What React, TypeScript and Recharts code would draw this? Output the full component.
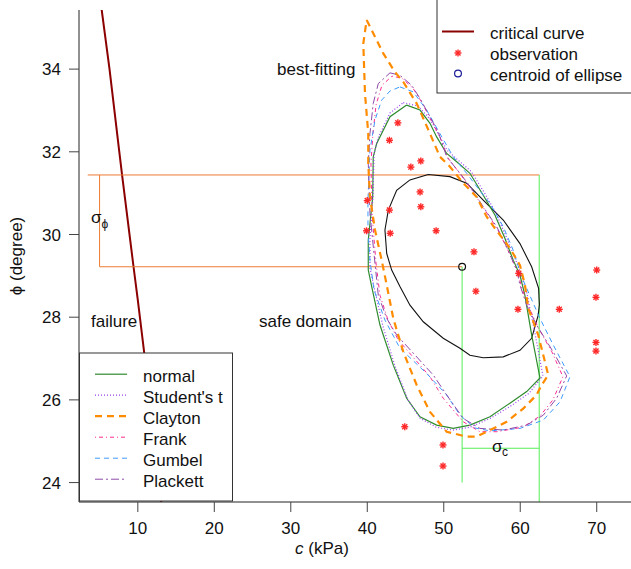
import React from 'react';
import { ComposedChart, XAxis, YAxis, Line, Scatter } from 'recharts';

type Pt = { c: number; phi: number };
type Pair = [number, number];

const xTicks = [10, 20, 30, 40, 50, 60, 70];
const yTicks = [24, 26, 28, 30, 32, 34];

// critical curve (c, phi)
const criticalCurve: Pair[] = [
  [4.85, 36.0], [5.28, 35.43], [6.3, 34.0], [7.58, 32.0], [7.94, 31.44], [9.44, 29.22],
  [10.0, 28.41], [10.83, 27.15], [13.05, 23.55], [13.2, 23.3],
];

const observations: Pair[] = [
  [44.0, 32.7], [42.9, 32.28], [47.0, 31.78], [45.7, 31.63], [46.9, 31.03], [47.0, 30.67],
  [40.0, 30.82], [42.9, 30.59], [39.9, 30.09], [43.0, 30.03], [49.0, 30.09], [53.95, 29.58],
  [59.8, 29.06], [54.2, 28.63], [59.7, 28.19], [65.1, 28.19], [70.0, 29.14], [69.9, 28.48],
  [69.9, 27.39], [69.9, 27.18], [44.9, 25.35], [49.9, 24.91], [49.9, 24.4],
];

const centroid: Pair[] = [[52.4, 29.22]];

const ellipse: Pair[] = [
  [47.97, 31.45], [50.81, 31.4], [52.99, 31.24], [55.16, 30.83], [57.78, 30.35], [59.96, 29.78],
  [61.49, 29.22], [62.4, 28.7], [62.5, 28.3], [62.35, 28.05], [61.49, 27.49], [59.96, 27.2],
  [57.78, 27.04], [55.16, 27.02], [53.42, 27.08], [52.12, 27.25], [49.93, 27.49], [47.32, 27.89],
  [45.58, 28.29], [44.27, 28.74], [43.19, 29.14], [42.54, 29.54], [42.31, 30.11], [42.75, 30.59],
  [43.84, 31.07], [45.58, 31.32],
];

const normalCurve: Pair[] = [
  [45.15, 33.13], [46.89, 33.01], [48.2, 32.69], [49.07, 32.36], [50.38, 31.96], [51.69, 31.76],
  [53.42, 31.48], [55.16, 30.95], [56.69, 30.47], [57.99, 29.91], [59.08, 29.38], [59.96, 29.02],
  [60.61, 28.53], [61.49, 27.57], [62.58, 26.53], [60.84, 26.2], [58.65, 25.92], [56.04, 25.59],
  [53.42, 25.39], [51.24, 25.31], [49.07, 25.39], [46.89, 25.59], [45.15, 26.04], [43.4, 26.84],
  [41.66, 27.81], [40.58, 28.74], [40.13, 29.14], [40.13, 29.86], [40.71, 30.91], [40.78, 31.88],
  [41.23, 32.2], [42.97, 32.85],
];

const studentCurve: Pair[] = [
  [44.71, 33.19], [46.63, 33.11], [48.2, 32.79], [49.24, 32.45], [50.42, 32.04], [51.86, 31.8],
  [53.56, 31.53], [55.25, 31.03], [56.82, 30.52], [58.13, 29.96], [59.31, 29.43], [60.09, 29.04],
  [60.87, 28.58], [61.92, 27.62], [62.97, 26.58], [61.14, 26.16], [58.91, 25.87], [56.17, 25.56],
  [53.42, 25.34], [51.2, 25.27], [48.98, 25.34], [46.89, 25.56], [45.32, 26.0], [43.62, 26.82],
  [42.05, 27.78], [40.88, 28.73], [40.35, 29.19], [40.35, 29.91], [40.75, 30.93], [40.88, 31.94],
  [41.4, 32.33], [42.97, 32.94],
];

const claytonCurve: Pair[] = [
  [39.92, 35.19], [42.09, 34.38], [43.62, 33.93], [44.71, 33.69], [46.46, 33.17], [48.2, 32.44],
  [49.5, 31.88], [50.81, 31.64], [52.55, 31.24], [54.3, 30.91], [55.61, 30.43], [56.69, 30.15],
  [58.65, 29.67], [59.96, 29.26], [60.61, 28.78], [61.05, 28.21], [62.35, 27.57], [63.23, 26.92],
  [63.66, 26.6], [62.8, 26.36], [62.14, 26.12], [60.39, 25.79], [58.22, 25.47], [54.3, 25.11],
  [52.99, 25.11], [50.38, 25.23], [48.2, 25.71], [46.46, 26.36], [44.71, 27.16], [43.4, 27.97],
  [42.54, 28.78], [41.88, 29.38], [41.01, 30.11], [40.35, 30.91], [40.13, 31.72], [40.13, 32.44],
  [39.7, 33.41], [39.48, 34.62],
];

const frankCurve: Pair[] = [
  [43.23, 33.83], [44.54, 33.78], [45.97, 33.54], [47.02, 33.23], [48.33, 32.77], [49.5, 32.36],
  [50.55, 31.85], [52.25, 31.44], [53.69, 31.07], [55.39, 30.59], [57.08, 30.11], [58.39, 29.62],
  [59.7, 29.07], [60.22, 28.7], [61.14, 28.24], [62.31, 27.76], [64.14, 27.16], [65.58, 26.56],
  [64.27, 26.0], [62.58, 25.61], [60.35, 25.34], [56.95, 25.23], [54.73, 25.23], [52.55, 25.47],
  [49.93, 26.04], [48.2, 26.56], [44.05, 27.45], [42.71, 27.93], [41.66, 28.53], [41.14, 29.31],
  [40.61, 30.52], [40.48, 31.73], [40.75, 32.45], [41.14, 33.13], [41.92, 33.61],
];

const gumbelCurve: Pair[] = [
  [44.27, 33.57], [46.01, 33.45], [47.76, 33.01], [49.5, 32.44], [51.24, 31.88], [52.99, 31.48],
  [54.47, 31.12], [56.04, 30.75], [57.78, 30.19], [59.08, 29.62], [60.18, 28.98], [61.05, 28.61],
  [62.58, 27.97], [64.31, 27.33], [66.5, 26.56], [65.19, 25.95], [63.01, 25.51], [59.96, 25.31],
  [56.04, 25.25], [54.08, 25.32], [52.12, 25.63], [50.38, 26.12], [47.76, 26.64], [44.27, 27.25],
  [42.31, 27.93], [40.88, 28.66], [40.35, 29.38], [40.09, 30.11], [40.09, 30.83], [40.35, 32.04],
  [41.01, 32.77], [41.88, 33.25], [42.97, 33.47],
];

const plackettCurve: Pair[] = [
  [42.97, 33.91], [44.27, 33.85], [45.8, 33.61], [46.89, 33.29], [48.2, 32.85], [49.28, 32.48],
  [50.38, 31.88], [52.12, 31.48], [53.42, 31.17], [55.16, 30.67], [56.92, 30.19], [58.22, 29.7],
  [59.53, 29.14], [59.96, 28.78], [60.84, 28.29], [62.14, 27.81], [64.31, 27.16], [66.07, 26.58],
  [64.76, 26.04], [63.01, 25.63], [60.84, 25.39], [57.78, 25.27], [54.73, 25.31], [52.55, 25.55],
  [50.38, 26.12], [48.63, 26.6], [43.84, 27.57], [42.54, 27.97], [41.44, 28.53], [41.01, 29.3],
  [40.35, 30.51], [40.13, 31.72], [40.35, 32.44], [40.78, 33.17], [41.44, 33.65],
];

// sigma brackets
const phiTopLine: Pair[] = [[3.45, 31.44], [62.48, 31.44]];
const phiBracket: Pair[] = [[5.0, 31.44], [5.0, 29.22], [52.4, 29.22]];
const cLeftLine: Pair[] = [[52.4, 29.22], [52.4, 24.0]];
const cRightLine: Pair[] = [[62.48, 31.44], [62.48, 23.3]];
const cBar: Pair[] = [[52.4, 24.83], [62.48, 24.83]];

const pts = (a: Pair[]): Pt[] => a.map(([c, phi]) => ({ c, phi }));
const loop = (a: Pair[]): Pt[] => pts([...a, a[0]]);

const FONT = '"Liberation Sans", Arial, Helvetica, sans-serif';

const Asterisk = (props: any) => {
  const { cx, cy } = props;
  const r = 3.5;
  const d = r * 0.72;
  return (
    <g stroke="#FF2626" strokeWidth={1.4}>
      <line x1={cx - r} y1={cy} x2={cx + r} y2={cy} />
      <line x1={cx} y1={cy - r} x2={cx} y2={cy + r} />
      <line x1={cx - d} y1={cy - d} x2={cx + d} y2={cy + d} />
      <line x1={cx - d} y1={cy + d} x2={cx + d} y2={cy - d} />
    </g>
  );
};

const Ring = (props: any) => (
  <circle cx={props.cx} cy={props.cy} r={3.4} fill="none" stroke="#111" strokeWidth={1.2} />
);

const series = [
  { name: 'normal', data: normalCurve, color: '#2E8B2E', dash: undefined, w: 1.2 },
  { name: "Student's t", data: studentCurve, color: '#9B40F0', dash: '1 2', w: 1.2 },
  { name: 'Frank', data: frankCurve, color: '#FF2A8F', dash: '1 3 4 3', w: 1 },
  { name: 'Gumbel', data: gumbelCurve, color: '#3D9BFF', dash: '5 4', w: 1 },
  { name: 'Plackett', data: plackettCurve, color: '#8E4AA8', dash: '8 3 2 3', w: 1 },
  { name: 'Clayton', data: claytonCurve, color: '#FF8C00', dash: '7 5', w: 2.2 },
];

const legendOrder = ['normal', "Student's t", 'Clayton', 'Frank', 'Gumbel', 'Plackett'];

export default function App() {
  return (
    <div style={{ position: 'absolute', left: 0, top: 0, width: 631, height: 569, background: '#fff', overflow: 'hidden', fontFamily: FONT }}>
      <ComposedChart width={631} height={569} margin={{ top: 10, right: 0, bottom: 0, left: 0 }}>
        <XAxis
          type="number"
          dataKey="c"
          domain={[2.31, 74.48]}
          ticks={xTicks}
          allowDataOverflow
          height={67}
          tickSize={10}
          tickMargin={10}
          axisLine={{ stroke: '#222' }}
          tickLine={{ stroke: '#444' }}
          tick={{ fill: '#111', fontSize: 17, fontFamily: FONT }}
        />
        <YAxis
          type="number"
          dataKey="phi"
          domain={[23.53, 35.43]}
          ticks={yTicks}
          allowDataOverflow
          width={79}
          tickSize={10}
          tickMargin={8}
          axisLine={{ stroke: '#222' }}
          tickLine={{ stroke: '#444' }}
          tick={{ fill: '#111', fontSize: 17, fontFamily: FONT }}
        />
        <Line data={pts(criticalCurve)} dataKey="phi" type="linear" stroke="#8B0000" strokeWidth={2} dot={false} isAnimationActive={false} />
        <Line data={pts(phiTopLine)} dataKey="phi" type="linear" stroke="#EE7A33" strokeWidth={1} dot={false} isAnimationActive={false} />
        <Line data={pts(phiBracket)} dataKey="phi" type="linear" stroke="#EE7A33" strokeWidth={1} dot={false} isAnimationActive={false} />
        <Line data={pts(cLeftLine)} dataKey="phi" type="linear" stroke="#55EE55" strokeWidth={1} dot={false} isAnimationActive={false} />
        <Line data={pts(cRightLine)} dataKey="phi" type="linear" stroke="#55EE55" strokeWidth={1} dot={false} isAnimationActive={false} />
        <Line data={pts(cBar)} dataKey="phi" type="linear" stroke="#55EE55" strokeWidth={1} dot={false} isAnimationActive={false} />
        <Line data={loop(ellipse)} dataKey="phi" type="linear" stroke="#111" strokeWidth={1.1} dot={false} isAnimationActive={false} />
        {series.map((s) => (
          <Line
            key={s.name}
            data={loop(s.data)}
            dataKey="phi"
            type="linear"
            stroke={s.color}
            strokeWidth={s.w}
            strokeDasharray={s.dash}
            dot={false}
            isAnimationActive={false}
          />
        ))}
        <Scatter data={pts(observations)} dataKey="phi" shape={<Asterisk />} isAnimationActive={false} />
        <Scatter data={pts(centroid)} dataKey="phi" shape={<Ring />} isAnimationActive={false} />
      </ComposedChart>

      <svg width={631} height={569} style={{ position: 'absolute', left: 0, top: 0, pointerEvents: 'none' }} fontFamily={FONT}>
        {/* annotations */}
        <text x={277} y={75} fontSize={17} fill="#111">best-fitting</text>
        <text x={91} y={327} fontSize={17} fill="#111">failure</text>
        <text x={259} y={327} fontSize={17} fill="#111">safe domain</text>
        <text x={91} y={223} fontSize={17} fill="#111">σ</text>
        <text x={101.5} y={228} fontSize={12} fill="#111">ϕ</text>
        <text x={492} y={452} fontSize={17} fill="#111">σ</text>
        <text x={502} y={456} fontSize={12} fill="#111">c</text>

        {/* axis titles */}
        <text x={22} y={256} fontSize={17} fill="#111" textAnchor="middle" transform="rotate(-90 22 256)">ϕ (degree)</text>
        <text x={322} y={554} fontSize={17} fill="#111" textAnchor="middle">
          <tspan fontStyle="italic">c</tspan> (kPa)
        </text>

        {/* top-right legend */}
        <rect x={437} y={-1} width={200} height={94} fill="#fff" stroke="#333" strokeWidth={1} />
        <line x1={442} y1={31.5} x2={474} y2={31.5} stroke="#8B0000" strokeWidth={2} />
        <Asterisk cx={458} cy={53} />
        <circle cx={458} cy={73.5} r={3.4} fill="none" stroke="#1A1A9A" strokeWidth={1.2} />
        <text x={490} y={39} fontSize={17} fill="#111">critical curve</text>
        <text x={490} y={60} fontSize={17} fill="#111">observation</text>
        <text x={490} y={81} fontSize={17} fill="#111">centroid of ellipse</text>

        {/* bottom-left legend */}
        <rect x={79.5} y={353} width={153} height={148} fill="#fff" stroke="#333" strokeWidth={1} />
        {legendOrder.map((name, i) => {
          const s = series.find((q) => q.name === name)!;
          const base = 381.7 + i * 21;
          return (
            <g key={name}>
              <line x1={95} y1={base - 7.5} x2={127} y2={base - 7.5} stroke={s.color} strokeWidth={s.w} strokeDasharray={s.dash} />
              <text x={143} y={base} fontSize={17} fill="#111">{name}</text>
            </g>
          );
        })}
      </svg>
    </div>
  );
}
